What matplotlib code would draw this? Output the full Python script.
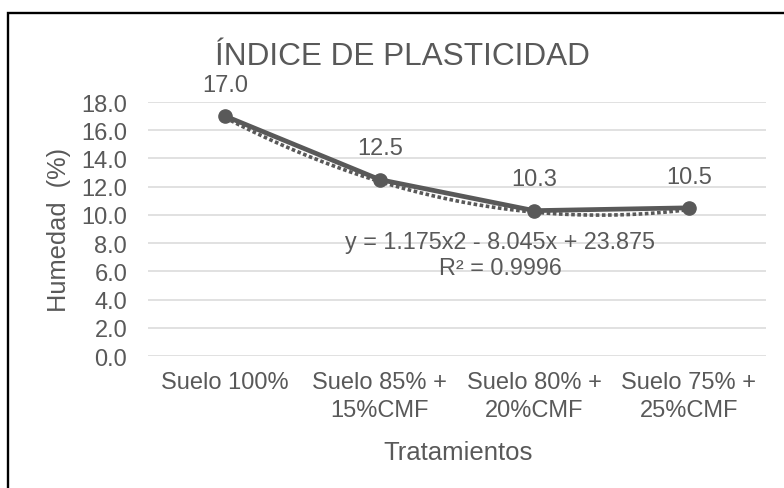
import matplotlib
matplotlib.use("Agg")
import matplotlib.pyplot as plt
from matplotlib.patches import Rectangle
import numpy as np

categories = ["Suelo 100%", "Suelo 85% +\n15%CMF", "Suelo 80% +\n20%CMF", "Suelo 75% +\n25%CMF"]
values = [17.0, 12.5, 10.3, 10.5]
yticks = [0, 2, 4, 6, 8, 10, 12, 14, 16, 18]
title = "ÍNDICE DE PLASTICIDAD"
equation = "y = 1.175x2 - 8.045x + 23.875\nR² = 0.9996"

plt.rcParams['font.family'] = ['Liberation Sans', 'DejaVu Sans']
TXT = "#595959"
LINE = "#595959"
GRID = "#D9D9D9"

W, H = 784, 489
fig = plt.figure(figsize=(W/100, H/100), dpi=100)
L, R, T, B = 148, 766, 103, 357
ax = fig.add_axes([L/W, 1-B/H, (R-L)/W, (B-T)/H])

x = np.arange(len(categories))
# polynomial trendline (order 2), Excel-style x = 1..n
xs = x + 1
coef = np.polyfit(xs, values, 2)
xf = np.linspace(1, len(categories), 200)
ax.plot(xf - 1, np.polyval(coef, xf) - 0.12, linestyle=(0, (1, 0.7)), color=LINE, lw=2.6, zorder=2)

ax.plot(x, values, color=LINE, lw=3.4, marker='o', markersize=9.5, zorder=3)
for xi, v in zip(x, values):
    ax.annotate(f"{v:.1f}", (xi, v), xytext=(0, 22.5), textcoords='offset points',
                ha='center', va='center', fontsize=17, color=TXT)

ax.text(1.78, 7.19, equation, ha='center', va='center', fontsize=16.8, color=TXT,
        linespacing=1.2, multialignment='center')

ax.set_xlim(-0.5, len(categories) - 0.5)
ax.set_ylim(0, 18)
ax.set_yticks(yticks)
ax.set_yticklabels([f"{t:.1f}" for t in yticks])
ax.set_xticks(x)
ax.set_xticklabels(categories, linespacing=1.35)
ax.tick_params(axis='both', length=0, labelsize=17, labelcolor=TXT)
ax.tick_params(axis='x', pad=11)
ax.tick_params(axis='y', pad=15)
ax.grid(axis='y', color=GRID, lw=1.1)
ax.set_axisbelow(True)
for s in ax.spines.values():
    s.set_visible(False)

xl = ax.set_xlabel("Tratamientos", fontsize=18.5, color=TXT)
xl.set_va('center')
ax.xaxis.set_label_coords((458 - L)/(R - L), (B - 453.5)/(B - T))
yl = ax.set_ylabel("Humedad  (%)", fontsize=18.3, color=TXT)
yl.set_va('center')
ax.yaxis.set_label_coords((59 - L)/(R - L), (B - 230)/(B - T))

fig.text(402/W, 1-57/H, title, ha='center', va='center', fontsize=22.7, color=TXT)

fig.patches.append(Rectangle((8/W, -0.1), 2.0, 1.1 - 13.5/H, transform=fig.transFigure,
                             fill=False, edgecolor='black', lw=1.7))

fig.savefig("out.png", dpi=100)
